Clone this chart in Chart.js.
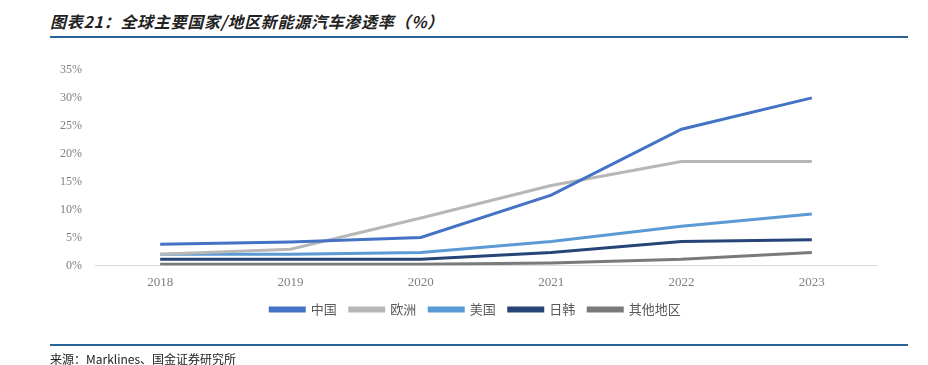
<!DOCTYPE html>
<html>
<head>
<meta charset="utf-8">
<script src="https://cdn.jsdelivr.net/npm/chart.js@4"></script>
<style>
  html, body { margin: 0; padding: 0; background: #fff; }
  #wrap { position: relative; width: 928px; height: 365px; overflow: hidden; }
  #graph { position: absolute; left: 0; top: 0; }
  .title {
    position: absolute; left: 50px; top: 9px;
    font: italic bold 16px "Noto Sans CJK SC", sans-serif;
    color: #222; letter-spacing: 0.7px;
  }
  .rule { position: absolute; left: 50px; width: 858px; background: #2a6496; }
  .source {
    position: absolute; left: 50px; top: 350px;
    font: 12px "Noto Sans CJK SC", monospace; color: #222;
  }
</style>
</head>
<body>
<div id="wrap">
  <div class="title">图表21：全球主要国家/地区新能源汽车渗透率（%）</div>
  <div class="rule" style="top:36px;height:2px"></div>
  <canvas id="graph" width="928" height="365"></canvas>
  <div class="rule" style="top:344px;height:2px"></div>
  <div class="source">来源：Marklines、国金证券研究所</div>
</div>
<script>
const years = ['2018', '2019', '2020', '2021', '2022', '2023'];
const china = [3.8, 4.2, 5.0, 12.6, 24.4, 30.0];
const europe = [2.0, 2.9, 8.5, 14.3, 18.6, 18.6];
const usa = [2.0, 2.0, 2.3, 4.3, 7.0, 9.2];
const japanKorea = [1.1, 1.1, 1.1, 2.3, 4.3, 4.6];
const others = [0.2, 0.2, 0.2, 0.45, 1.1, 2.3];

function series(label, data, color) {
  return {
    label: label,
    data: data,
    borderColor: color,
    backgroundColor: color,
    borderWidth: 3,
    pointRadius: 0,
    tension: 0,
    fill: false,
  };
}

// nudge the legend box so it sits where the original has it
const legendShift = {
  id: 'legendShift',
  afterLayout(chart) {
    const lg = chart.legend;
    if (!lg) return;
    lg.top -= 9; lg.bottom -= 9;
    lg.left += 37; lg.right += 37;
  }
};

const ctx = document.getElementById('graph').getContext('2d');
const lineChart = new Chart(ctx, {
  type: 'line',
  data: {
    labels: years,
    datasets: [
      series('中国', china, '#4472c4'),
      series('欧洲', europe, '#b7b7b7'),
      series('美国', usa, '#5b9bd5'),
      series('日韩', japanKorea, '#264478'),
      series('其他地区', others, '#7a7a7a'),
    ]
  },
  options: {
    responsive: false,
    animation: false,
    layout: {
      padding: { left: 0, right: 51, top: 70, bottom: 30 }
    },
    scales: {
      x: {
        offset: true,
        grid: { display: false, drawTicks: false },
        border: { color: '#d9d9d9', width: 1 },
        ticks: {
          color: '#7f7f7f',
          padding: 9,
          font: { family: 'Liberation Serif', size: 13 }
        }
      },
      y: {
        min: 0,
        max: 35,
        afterFit: (scale) => { scale.width = 95; },
        grid: { display: false, drawTicks: false },
        border: { display: false },
        ticks: {
          stepSize: 5,
          color: '#7f7f7f',
          padding: 13,
          font: { family: 'Liberation Serif', size: 12 },
          callback: (v) => v + '%'
        }
      }
    },
    plugins: {
      legend: {
        position: 'bottom',
        labels: {
          boxWidth: 34,
          boxHeight: 3,
          padding: 13,
          color: '#595959',
          font: { family: 'Noto Sans CJK SC', size: 13 }
        }
      },
      tooltip: { enabled: false }
    }
  },
  plugins: [legendShift]
});
</script>
</body>
</html>
